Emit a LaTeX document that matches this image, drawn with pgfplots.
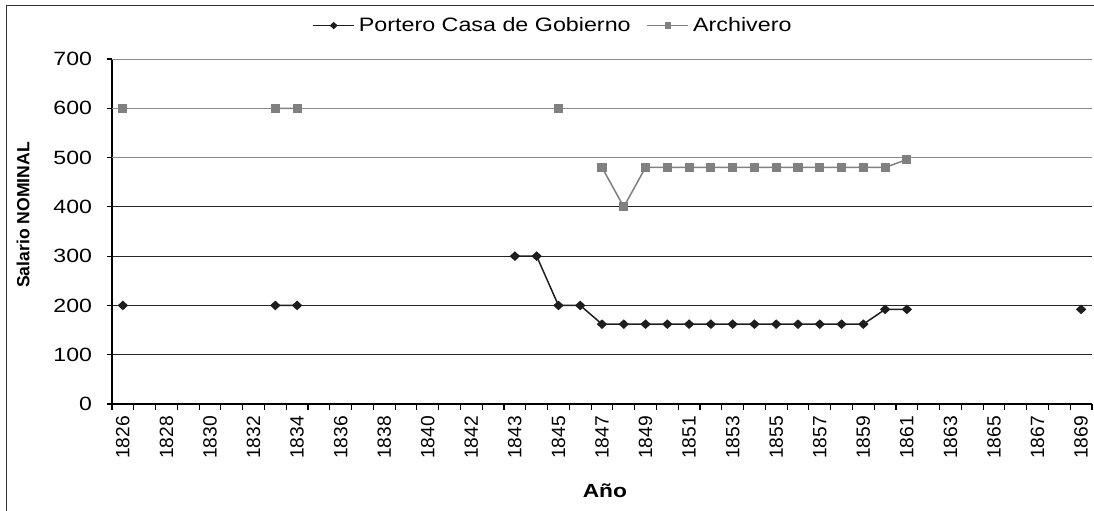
\documentclass[border=0pt]{standalone}
\usepackage{fontspec}
\setmainfont{Liberation Sans}[FakeStretch=1.2]
\newfontfamily\plainsans{Liberation Sans}
\usepackage{pgfplots}
\pgfplotsset{compat=1.18}
\definecolor{portero}{HTML}{1E1E1E}
\definecolor{archivo}{HTML}{808080}
\definecolor{gridgray}{HTML}{8C8C8C}
\definecolor{griddark}{HTML}{262626}

\begin{document}
\begin{tikzpicture}
\begin{axis}[
  name=ax,
  scale only axis, width=490pt, height=172.5pt,
  xmin=-0.5, xmax=44.5, ymin=0, ymax=700,
  axis lines=left, axis line style={-, line width=1.2pt, black},
  tick align=outside,
  /pgf/number format/assume math mode=true,
  xtick={0,2,...,44},
  xticklabels={1826,1828,1830,1832,1834,1836,1838,1840,1842,1843,1845,1847,1849,1851,1853,1855,1857,1859,1861,1863,1865,1867,1869},
  major x tick style={draw=none},
  minor xtick={-0.5,0.5,...,44.5},
  minor tick length=3pt,
  minor x tick style={black, line width=0.6pt},
  major tick length=2.5pt,
  y tick style={black, line width=0.6pt},
  ytick={0,100,200,300,400},
  extra y ticks={500,600,700},
  extra y tick style={grid=major, major grid style={gridgray, line width=0.5pt}},
  ymajorgrids, major grid style={griddark, line width=0.5pt},
  yticklabel style={font=\fontsize{9.6}{10}\selectfont, xshift=-4pt},
  xticklabel style={font=\plainsans\fontsize{9.6}{10}\selectfont, rotate=90, anchor=east},
  xlabel={Año},
  xlabel style={font=\bfseries\fontsize{9.5}{10}\selectfont, at={(axis description cs:0.503,-0.252)}, anchor=center},
  ylabel={Salario NOMINAL},
  ylabel style={font=\plainsans\bfseries\fontsize{8.8}{10}\selectfont, at={(axis description cs:-0.0908,0.548)}, anchor=center},
  legend style={at={(axis description cs:0.451,1.097)}, anchor=center, draw=none, fill=none,
    legend columns=2, font=\fontsize{9.7}{11}\selectfont,
    /tikz/every even column/.append style={column sep=6pt}},
  legend image code/.code={\draw[mark repeat=2,mark phase=2,every mark/.append style={scale=0.7}]
    plot coordinates {(0cm,0cm) (0.36cm,0cm) (0.72cm,0cm)};},
  unbounded coords=jump,
]
\addplot[portero, line width=0.75pt, mark=diamond*, mark size=1.9pt,
  mark options={xscale=1.45, solid, fill=portero}] coordinates {
  (0,200) (1,nan) (7,200) (8,200) (9,nan)
  (18,300) (19,300) (20,200) (21,200)
  (22,162) (23,162) (24,162) (25,162) (26,162) (27,162) (28,162)
  (29,162) (30,162) (31,162) (32,162) (33,162) (34,162)
  (35,192) (36,192) (37,nan) (44,192)};
\addplot[archivo, line width=0.75pt, mark=square*, mark size=1.9pt,
  mark options={solid, fill=archivo}] coordinates {
  (0,600) (1,nan) (7,600) (8,600) (9,nan) (20,600) (21,nan)
  (22,480) (23,400) (24,480) (25,480) (26,480) (27,480) (28,480)
  (29,480) (30,480) (31,480) (32,480) (33,480) (34,480) (35,480)
  (36,496)};
\legend{Portero Casa de Gobierno, Archivero}
\end{axis}
\draw[black!80, line width=0.5pt] ([shift={(-52.5pt,-60pt)}]ax.south west)
  -- ([shift={(-52.5pt,199.25pt)}]ax.south west)
  -- ([shift={(500pt,199.25pt)}]ax.south west);
\pgfresetboundingbox
\path[use as bounding box] ([shift={(-56pt,-53pt)}]ax.south west)
  rectangle ([shift={(491pt,202pt)}]ax.south west);
\end{tikzpicture}
\end{document}
